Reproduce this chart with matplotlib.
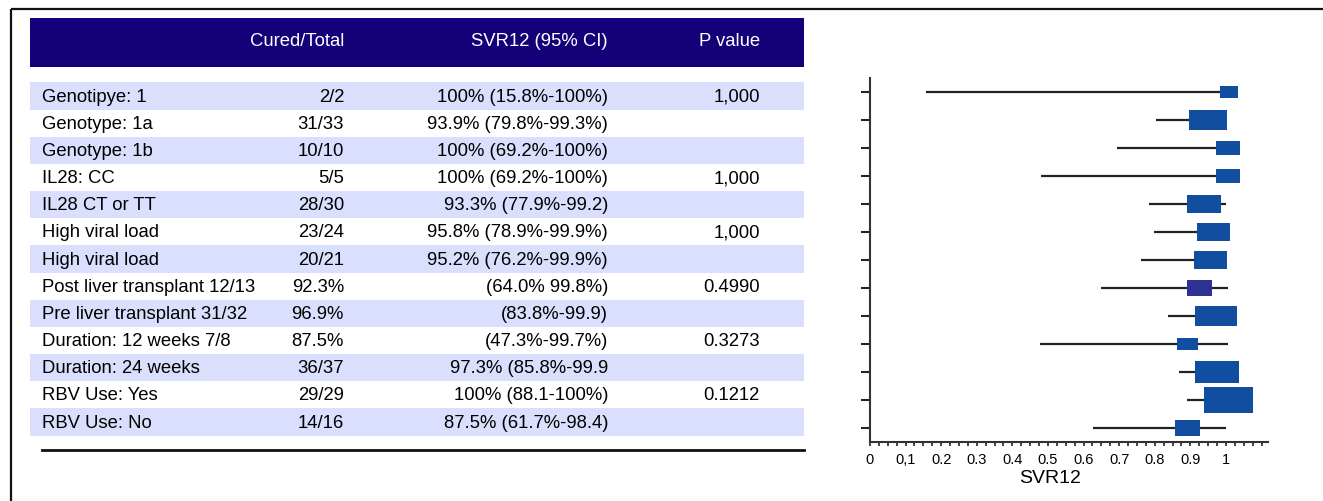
import numpy as np
import matplotlib.pyplot as plt
from matplotlib.patches import Rectangle
from matplotlib.ticker import MultipleLocator

# table contents
headers = ["Cured/Total", "SVR12 (95% CI)", "P value"]
labels = ["Genotipye: 1", "Genotype: 1a", "Genotype: 1b", "IL28: CC", "IL28 CT or TT",
          "High viral load", "High viral load", "Post liver transplant 12/13",
          "Pre liver transplant 31/32", "Duration: 12 weeks 7/8", "Duration: 24 weeks",
          "RBV Use: Yes", "RBV Use: No"]
cured = ["2/2", "31/33", "10/10", "5/5", "28/30", "23/24", "20/21", "92.3%",
         "96.9%", "87.5%", "36/37", "29/29", "14/16"]
svr_ci = ["100% (15.8%-100%)", "93.9% (79.8%-99.3%)", "100% (69.2%-100%)",
          "100% (69.2%-100%)", "93.3% (77.9%-99.2)", "95.8% (78.9%-99.9%)",
          "95.2% (76.2%-99.9%)", "(64.0% 99.8%)", "(83.8%-99.9)", "(47.3%-99.7%)",
          "97.3% (85.8%-99.9", "100% (88.1-100%)", "87.5% (61.7%-98.4)"]
pvals = ["1,000", "", "", "1,000", "", "1,000", "", "0.4990", "", "0.3273", "",
         "0.1212", ""]

# forest plot values
ci_lo = [0.157, 0.803, 0.694, 0.480, 0.784, 0.798, 0.761, 0.649, 0.837, 0.477,
         0.868, 0.890, 0.626]
ci_hi = [1.000, 0.993, 1.000, 1.000, 1.000, 0.999, 0.999, 1.005, 0.999, 1.005,
         0.999, 1.000, 1.000]
box_mid = [1.008, 0.950, 1.005, 1.005, 0.938, 0.964, 0.957, 0.925, 0.972, 0.891,
           0.974, 1.007, 0.892]
box_w = [0.051, 0.107, 0.067, 0.067, 0.096, 0.093, 0.093, 0.071, 0.118, 0.059,
         0.123, 0.138, 0.070]
box_h = [0.40, 0.73, 0.47, 0.47, 0.65, 0.62, 0.62, 0.55, 0.69, 0.40, 0.80, 0.91, 0.55]

W, H = 1323, 502
NAVY = "#140078"
STRIPE = "#d9dffc"
BLUE = "#124ea0"
PURPLE = "#2e3192"
FS = 13.3

plt.rcParams['font.family'] = ['Liberation Sans', 'DejaVu Sans']

fig = plt.figure(figsize=(W / 100, H / 100), dpi=100)

# background axes in pixel units for the table
tab = fig.add_axes([0, 0, 1, 1])
tab.set_xlim(0, W)
tab.set_ylim(H, 0)
tab.axis('off')

# frame lines
tab.plot([11, 11], [10, H], color='#111111', lw=1.6, solid_capstyle='butt')
tab.plot([11, W], [10, 10], color='#111111', lw=1.6, solid_capstyle='butt')

# header bar
tab.add_patch(Rectangle((30, 19), 774, 49, color=NAVY, lw=0))
col_x = [344, 608, 760]
for x, h in zip(col_x, headers):
    tab.text(x, 42, h, color='white', fontsize=FS, ha='right', va='center')

y0, pitch = 97, 27.17
for i in range(len(labels)):
    y = y0 + i * pitch
    if i % 2 == 0:
        tab.add_patch(Rectangle((30, y - pitch / 2), 774, pitch, color=STRIPE, lw=0))
    tab.text(42, y, labels[i], fontsize=FS, ha='left', va='center')
    tab.text(col_x[0], y, cured[i], fontsize=FS, ha='right', va='center')
    tab.text(col_x[1], y, svr_ci[i], fontsize=FS, ha='right', va='center')
    tab.text(col_x[2], y, pvals[i], fontsize=FS, ha='right', va='center')

tab.plot([42, 804], [451, 451], color='#111111', lw=2)

# forest plot
ax = fig.add_axes([870 / W, (H - 443) / H, (1268 - 870) / W, (443 - 79) / H])
rows = np.arange(len(labels))
ax.hlines(rows, ci_lo, ci_hi, color='#222222', lw=1.6)
colors = [PURPLE if i == 7 else BLUE for i in rows]
ax.barh(rows, box_w, left=np.array(box_mid) - np.array(box_w) / 2, height=box_h,
        color=colors, zorder=3)

ax.set_xlim(0, 1.118)
ax.set_ylim(12.5, -0.5)
ax.set_yticks(rows)
ax.set_yticklabels([])
ax.tick_params(axis='y', length=6.5, width=1.5, color='#222222')

ax.set_xticks(np.arange(0, 1.01, 0.1))
ax.set_xticklabels(["0", "0,1", "0.2", "0.3", "0.4", "0.5", "0.6", "0.7", "0.8",
                    "0.9", "1"], fontsize=10.5)
ax.xaxis.set_minor_locator(MultipleLocator(0.025))
ax.tick_params(axis='x', which='both', length=3, width=1.2, color='#222222', pad=4)
for side in ['top', 'right']:
    ax.spines[side].set_visible(False)
for side in ['left', 'bottom']:
    ax.spines[side].set_linewidth(1.5)
    ax.spines[side].set_color('#333333')
ax.set_xlabel("SVR12", fontsize=14, labelpad=2)
ax.xaxis.set_label_coords(0.452, -0.075)

fig.savefig("out.png", dpi=100)
